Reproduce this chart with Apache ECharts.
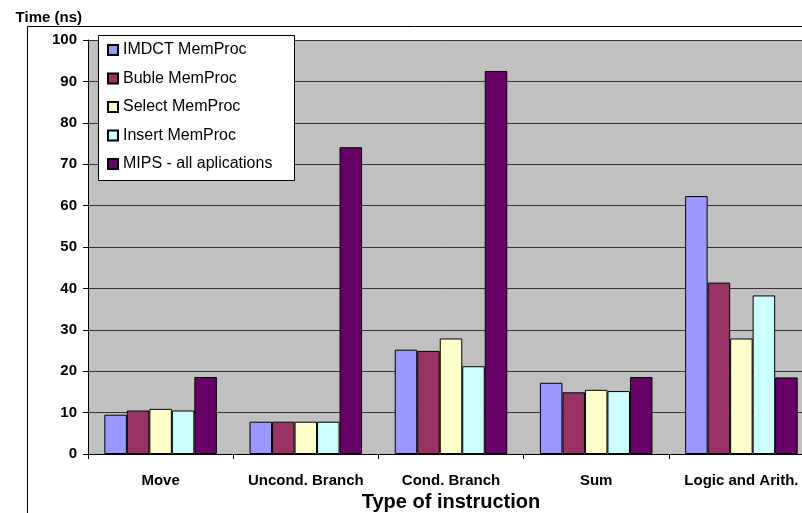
<!DOCTYPE html>
<html>
<head>
<meta charset="utf-8">
<script src="https://cdn.jsdelivr.net/npm/echarts@6/dist/echarts.min.js"></script>
<style>
  html, body { margin: 0; padding: 0; background: #ffffff; }
  #chart { width: 802px; height: 513px; }
</style>
</head>
<body>
<div id="chart"></div>
<script>
// Instruction categories on the x axis
const categories = ['Move', 'Uncond. Branch', 'Cond. Branch', 'Sum', 'Logic and Arith.'];

// Execution time per instruction type (ns)
const imdct  = [9.5, 7.8, 25.2, 17.2, 62.3];
const buble  = [10.5, 7.8, 24.9, 14.9, 41.4];
const select = [10.9, 7.8, 27.9, 15.5, 27.9];
const insert = [10.5, 7.8, 21.2, 15.2, 38.3];
const mips   = [18.6, 74.1, 92.5, 18.6, 18.5];

const seriesNames = ['IMDCT MemProc', 'Buble MemProc', 'Select MemProc', 'Insert MemProc', 'MIPS - all aplications'];
const seriesData = [imdct, buble, select, insert, mips];
const seriesColors = ['#9999ff', '#993366', '#ffffcc', '#ccffff', '#660066'];

const yTicks = { min: 0, max: 100, interval: 10 };

const font = 'Liberation Sans, Arial, sans-serif';
const chart = echarts.init(document.getElementById('chart'), null, { renderer: 'canvas' });

chart.setOption({
  backgroundColor: '#ffffff',
  animation: false,
  textStyle: { fontFamily: font },
  grid: {
    left: 88, top: 40, bottom: 59, right: -12,
    outerBoundsMode: 'none',
    show: true, backgroundColor: '#c0c0c0', borderWidth: 0,
    containLabel: false
  },
  graphic: [
    // outer chart frame (top and left edges)
    { type: 'line', shape: { x1: 27.5, y1: 26.5, x2: 802, y2: 26.5 }, style: { stroke: '#000', lineWidth: 1 }, z: 0 },
    { type: 'line', shape: { x1: 27.5, y1: 26.5, x2: 27.5, y2: 513 }, style: { stroke: '#000', lineWidth: 1 }, z: 0 },
    // legend box
    { type: 'rect', shape: { x: 98.5, y: 35.5, width: 196, height: 145 }, style: { fill: '#ffffff', stroke: '#000', lineWidth: 1 }, z: 50 }
  ],
  legend: {
    orient: 'vertical',
    left: 107, top: 42,
    padding: 0,
    itemGap: 12.5,
    itemWidth: 10, itemHeight: 10,
    icon: 'rect',
    textStyle: { fontFamily: font, fontSize: 16, color: '#000', lineHeight: 16 },
    z: 60,
    data: seriesNames
  },
  xAxis: {
    type: 'category',
    data: categories,
    name: 'Type of instruction',
    nameLocation: 'middle',
    nameGap: 34,
    nameTextStyle: { fontFamily: font, fontSize: 20, fontWeight: 'bold', color: '#000' },
    axisLine: { lineStyle: { color: '#000', width: 1 } },
    axisTick: { show: true, length: 5, lineStyle: { color: '#000' } },
    axisLabel: { fontFamily: font, fontSize: 15, fontWeight: 'bold', color: '#000', margin: 19, interval: 0 },
    splitLine: { show: false }
  },
  yAxis: {
    type: 'value',
    min: yTicks.min, max: yTicks.max, interval: yTicks.interval,
    name: 'Time (ns)',
    nameLocation: 'end',
    nameGap: 22,
    nameTextStyle: { fontFamily: font, fontSize: 15, fontWeight: 'bold', color: '#000', align: 'right', verticalAlign: 'middle', padding: [0, 6, 0, 0] },
    axisLine: { show: true, lineStyle: { color: '#000', width: 1 } },
    axisTick: { show: true, length: 5, lineStyle: { color: '#000' } },
    axisLabel: { fontFamily: font, fontSize: 15, fontWeight: 'bold', color: '#000', margin: 11 },
    splitLine: { show: true, lineStyle: { color: '#333333', width: 1 } }
  },
  series: seriesNames.map((name, i) => ({
    name: name,
    type: 'bar',
    data: seriesData[i],
    barGap: '0%',
    barCategoryGap: '22.5%',
    itemStyle: { color: seriesColors[i], borderColor: '#000', borderWidth: 1 },
    emphasis: { disabled: true }
  }))
});
</script>
</body>
</html>
